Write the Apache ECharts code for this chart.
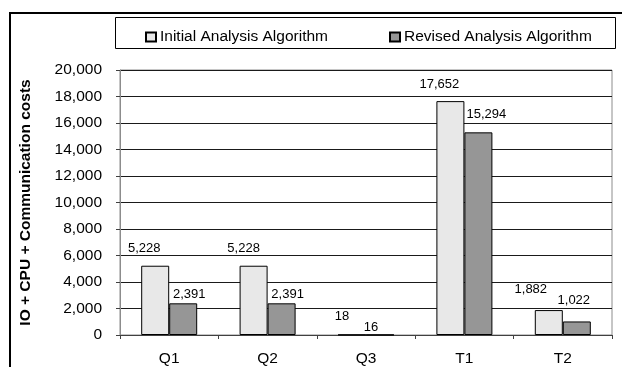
<!DOCTYPE html>
<html>
<head>
<meta charset="utf-8">
<script src="https://cdn.jsdelivr.net/npm/echarts@6/dist/echarts.min.js"></script>
<style>
  html, body { margin: 0; padding: 0; background: #fff; }
  #chart { width: 622px; height: 367px; }
</style>
</head>
<body>
<div id="chart"></div>
<script>
// Query / transaction workloads and their total cost under each algorithm
const categories = ['Q1', 'Q2', 'Q3', 'T1', 'T2'];
const seriesNames = ['Initial Analysis Algorithm', 'Revised Analysis Algorithm'];
const initialCosts = [5228, 5228, 18, 17652, 1882];
const revisedCosts = [2391, 2391, 16, 15294, 1022];
const yTicks = { min: 0, max: 20000, step: 2000 };

// Per-bar nudges for value labels [dx, dy] relative to the bar top centre
const initialLabelNudge = [[-11, -17], [-10, -17], [-10, -18], [-11, -17], [-18, -21]];
const revisedLabelNudge = [[6, -9], [6, -9], [-9, -7], [8, -18], [-3, -21]];

const FONT = 'Liberation Sans, Arial, sans-serif';
const fmt = v => v.toLocaleString('en-US');

function withLabels(values, nudges) {
  return values.map((v, i) => ({
    value: v,
    label: { offset: nudges[i] }
  }));
}

const chart = echarts.init(document.getElementById('chart'), null, { renderer: 'canvas' });

const labelStyle = {
  show: true,
  position: 'top',
  distance: 0,
  verticalAlign: 'middle',
  align: 'center',
  fontFamily: FONT,
  fontSize: 13,
  color: '#000',
  formatter: p => fmt(p.value)
};

const legendCommon = {
  top: 24,
  itemWidth: 10,
  itemHeight: 9,
  itemGap: 0,
  icon: 'rect',
  textStyle: { fontFamily: FONT, fontSize: 15.5, color: '#000', padding: [0, 0, 0, -1] }
};

chart.setOption({
  animation: false,
  backgroundColor: '#fff',
  textStyle: { fontFamily: FONT },
  graphic: [
    {
      type: 'rect',
      shape: { x: 10, y: 13, width: 700, height: 400 },
      style: { fill: 'none', stroke: '#000', lineWidth: 2 },
      silent: true
    },
    {
      type: 'rect',
      shape: { x: 115.5, y: 17.5, width: 500, height: 31 },
      style: { fill: '#fff', stroke: '#000', lineWidth: 1 },
      silent: true
    }
  ],
  legend: [
    Object.assign({ left: 140, data: [seriesNames[0]] }, legendCommon),
    Object.assign({ left: 384, data: [seriesNames[1]] }, legendCommon)
  ],
  grid: {
    left: 120,
    top: 70,
    right: 10,
    bottom: 32,
    show: true,
    borderColor: '#8c8c8c',
    borderWidth: 1
  },
  xAxis: {
    type: 'category',
    data: categories,
    axisLine: { lineStyle: { color: '#404040', width: 1 } },
    axisTick: { show: true, alignWithLabel: false, length: 4, lineStyle: { color: '#404040' } },
    axisLabel: { fontFamily: FONT, fontSize: 15.5, color: '#000', margin: 16 }
  },
  yAxis: {
    type: 'value',
    min: yTicks.min,
    max: yTicks.max,
    interval: yTicks.step,
    name: 'IO + CPU + Communication costs',
    nameLocation: 'middle',
    nameGap: 86,
    nameTextStyle: { fontFamily: FONT, fontSize: 15.5, fontWeight: 'bold', color: '#000' },
    axisLine: { show: true, lineStyle: { color: '#8c8c8c', width: 1 } },
    axisTick: { show: true, length: 4, lineStyle: { color: '#404040' } },
    axisLabel: { fontFamily: FONT, fontSize: 15.5, color: '#000', margin: 18, formatter: v => fmt(v) },
    splitLine: { show: true, lineStyle: { color: '#1a1a1a', width: 1 } }
  },
  series: [
    {
      name: seriesNames[0],
      type: 'bar',
      barWidth: 28,
      barGap: '0%',
      itemStyle: { color: '#e8e8e8', borderColor: '#000', borderWidth: 1 },
      label: labelStyle,
      data: withLabels(initialCosts, initialLabelNudge)
    },
    {
      name: seriesNames[1],
      type: 'bar',
      barWidth: 28,
      barGap: '0%',
      itemStyle: { color: '#969696', borderColor: '#000', borderWidth: 1 },
      label: labelStyle,
      data: withLabels(revisedCosts, revisedLabelNudge)
    }
  ]
});
</script>
</body>
</html>
